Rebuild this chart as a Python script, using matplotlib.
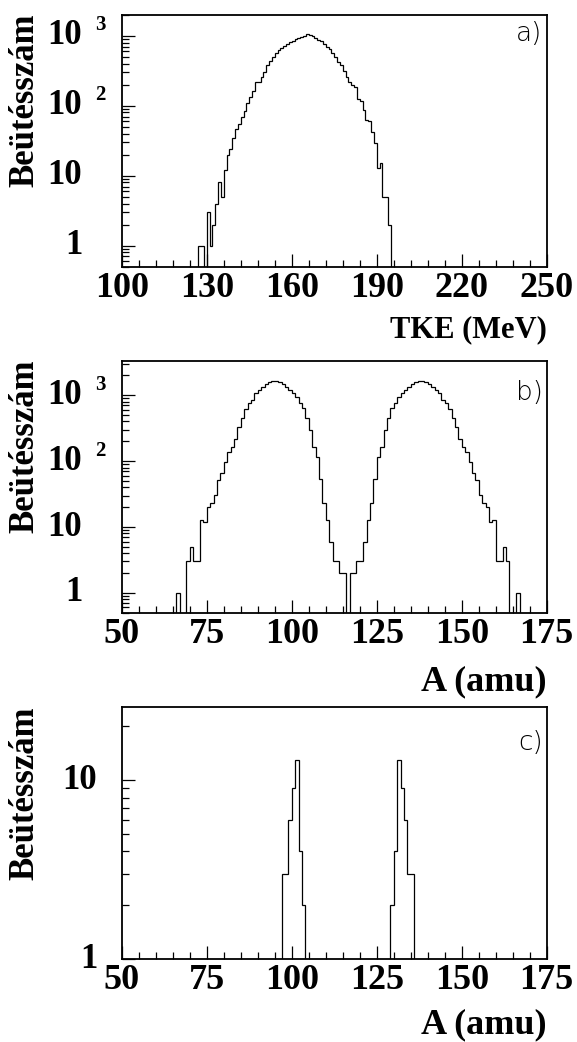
import numpy as np
import matplotlib
matplotlib.use("Agg")
import matplotlib.pyplot as plt
from matplotlib.ticker import LogLocator, MultipleLocator, NullFormatter
from matplotlib.transforms import blended_transform_factory

plt.rcParams['font.family'] = ['Liberation Serif', 'DejaVu Serif']
plt.rcParams['font.weight'] = 'bold'

# ---------------- data ----------------
# panel a: TKE spectrum, 1 MeV bins starting at 127 MeV
tke_first_bin = 127
tke_counts = [1, 1, 0, 3, 1, 2, 4, 8, 5, 12,
              20, 24, 34, 46, 54, 69, 84, 110, 133, 160,
              215, 220, 257, 300, 380, 430, 500, 560, 620, 660,
              710, 770, 815, 850, 900, 930, 960, 1000, 1050, 1030,
              990, 930, 880, 830, 760, 700, 640, 560, 500, 420,
              380, 315, 257, 218, 195, 185, 126, 117, 88, 63,
              60, 42, 29, 13, 15, 5, 5, 2]

# panel b: mass distribution, 1 amu bins starting at A = 66
mass_first_bin = 66
mass_counts = [1, 0, 0, 3, 5, 3, 3, 13, 12, 20,
               23, 31, 52, 65, 98, 140, 165, 215, 330, 450,
               610, 770, 860, 1070, 1200, 1350, 1480, 1600, 1660, 1660,
               1600, 1500, 1350, 1200, 1100, 950, 770, 630, 450, 300,
               165, 117, 53, 23, 13, 6, 3, 3, 2, 2,
               0,
               2, 2, 3, 3, 6, 13, 23, 53, 117, 165,
               300, 450, 630, 770, 950, 1100, 1200, 1350, 1500, 1600,
               1660, 1660, 1600, 1480, 1350, 1200, 1070, 860, 770, 610,
               450, 330, 215, 165, 140, 98, 65, 52, 31, 23,
               20, 12, 13, 3, 3, 5, 3, 0, 0, 1]

# panel c: selected events, light and heavy groups
light_first_bin = 97
light_counts = [3, 3, 6, 9, 13, 4, 2]
heavy_first_bin = 129
heavy_counts = [2, 4, 13, 9, 6, 3, 3]

ylabel = "Beütésszám"
xlabels = ["TKE (MeV)", "A (amu)", "A (amu)"]
panel_tags = ["a)", "b)", "c)"]
log_ticks_ab = [(1, "1", ""), (10, "10", ""), (100, "10", "2"), (1000, "10", "3")]
log_ticks_c = [(1, "1", ""), (10, "10", "")]

# ---------------- layout ----------------
W, H = 577, 1042
fig = plt.figure(figsize=(W / 100, H / 100), dpi=100)


def make_ax(top_px, bottom_px):
    return fig.add_axes([121.7 / W, 1 - bottom_px / H, 425 / W, (bottom_px - top_px) / H])


axa = make_ax(14.7, 266.7)
axb = make_ax(360.7, 612.7)
axc = make_ax(707.0, 959.0)


def draw_hist(ax, first, counts):
    counts = np.asarray(counts, dtype=float)
    edges = np.arange(first, first + len(counts) + 1, 1.0)
    vals = np.where(counts > 0, counts, 1e-3)
    ax.stairs(vals, edges, baseline=1e-3, color='black', lw=0.9)


draw_hist(axa, tke_first_bin, tke_counts)
draw_hist(axb, mass_first_bin, mass_counts)
draw_hist(axc, light_first_bin, light_counts)
draw_hist(axc, heavy_first_bin, heavy_counts)

axa.set_xlim(100, 250)
axa.set_ylim(0.5, 2000)
axb.set_xlim(50, 175)
axb.set_ylim(0.5, 3350)
axc.set_xlim(50, 175)
axc.set_ylim(1, 25.7)

for ax in (axa, axb, axc):
    ax.set_yscale('log')
    ax.yaxis.set_major_locator(LogLocator(base=10, numticks=20))
    ax.yaxis.set_minor_locator(LogLocator(base=10, subs=np.arange(2, 10), numticks=20))
    ax.yaxis.set_major_formatter(NullFormatter())
    ax.yaxis.set_minor_formatter(NullFormatter())
    ax.tick_params(which='both', direction='in', top=False, right=False, width=0.9)
    ax.tick_params(which='major', length=9.5)
    ax.tick_params(which='minor', length=4.8)
    ax.tick_params(axis='x', labelsize=26, pad=3.5)
    for s in ax.spines.values():
        s.set_linewidth(1.3)

axa.xaxis.set_major_locator(MultipleLocator(30, offset=10))
axa.xaxis.set_minor_locator(MultipleLocator(6, offset=4))
for ax in (axb, axc):
    ax.xaxis.set_major_locator(MultipleLocator(25))
    ax.xaxis.set_minor_locator(MultipleLocator(5))


def ytick_labels(ax, ticks, xbase):
    tr = blended_transform_factory(ax.transAxes, ax.transData)
    for v, base, exp in ticks:
        ax.text(xbase, v, base, transform=tr, ha='right', va='center', fontsize=25)
        if exp:
            ax.annotate(exp, xy=(xbase + 0.03, v), xycoords=tr, xytext=(0, 7.5),
                        textcoords='offset points', ha='left', va='center', fontsize=15)


ytick_labels(axa, log_ticks_ab, -0.093)
ytick_labels(axb, log_ticks_ab, -0.093)
ytick_labels(axc, log_ticks_c, -0.058)

# axis titles
for ax, top_px, xl, fs, yoff, tag, tagy in [
        (axa, 14.7, xlabels[0], 22, 63.3, panel_tags[0], 6),
        (axb, 360.7, xlabels[1], 26, 69.0, panel_tags[1], 19),
        (axc, 707.0, xlabels[2], 26, 66.0, panel_tags[2], 23)]:
    ax.text(1.0, -yoff / 252, xl, transform=ax.transAxes, ha='right', va='center', fontsize=fs)
    fig.text(25 / W, 1 - (top_px - 1) / H, ylabel, rotation=90, ha='center', va='top', fontsize=25)
    ax.text(0.99, 1 - tagy / 252, tag, transform=ax.transAxes, ha='right', va='top',
            fontsize=19, family='DejaVu Sans', weight='light')

fig.savefig('out.png', dpi=100)
